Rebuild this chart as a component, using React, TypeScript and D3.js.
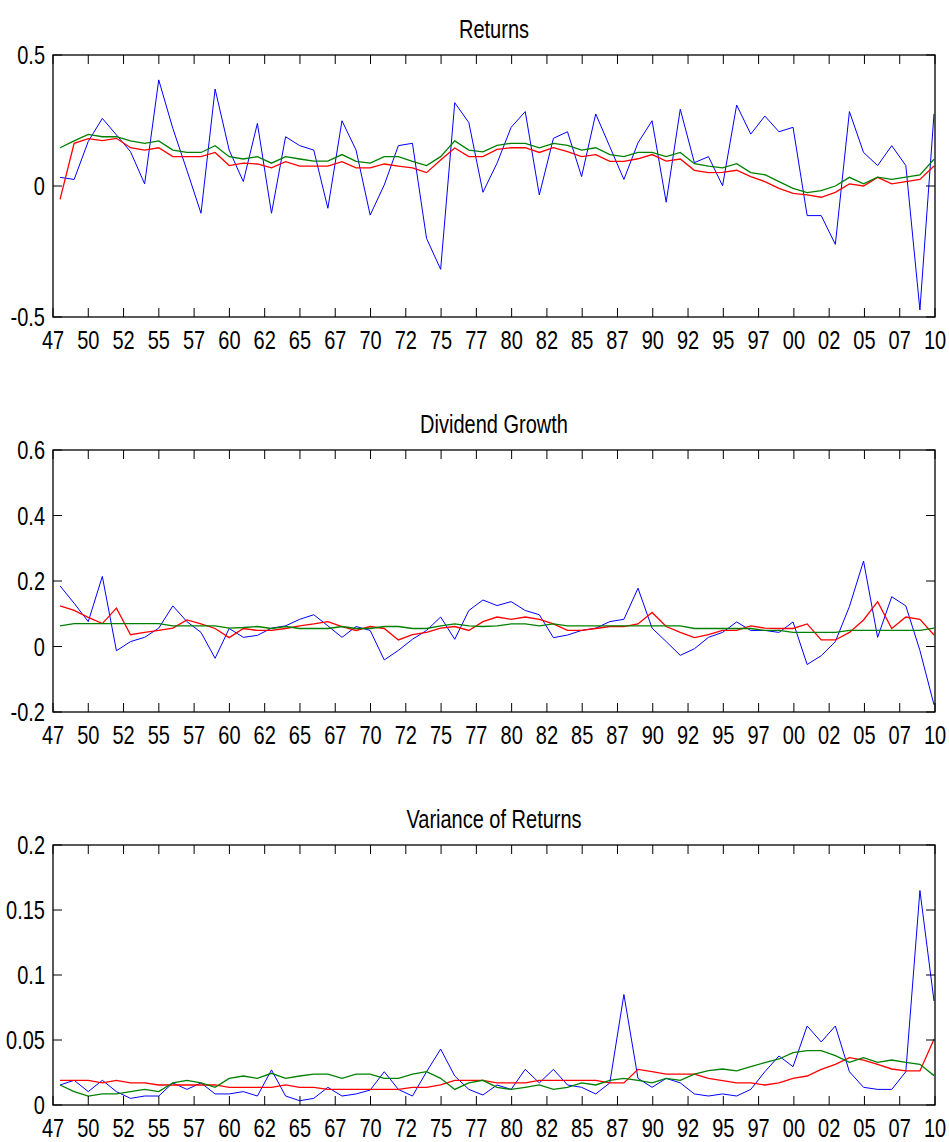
import React from "react";
import * as d3 from "d3";

const years: number[] = d3.range(1948, 2011);
const tickLabels = ["47","50","52","55","57","60","62","65","67","70","72","75","77","80","82","85","87","90","92","95","97","00","02","05","07","10"];

const retBlue = [0.033,0.025,0.17,0.258,0.195,0.131,0.008,0.405,0.22,0.06,-0.104,0.37,0.137,0.017,0.239,-0.104,0.188,0.154,0.137,-0.085,0.249,0.137,-0.111,0.004,0.154,0.163,-0.2,-0.318,0.318,0.242,-0.024,0.087,0.224,0.284,-0.034,0.182,0.207,0.036,0.275,0.15,0.025,0.165,0.249,-0.062,0.293,0.089,0.112,0.001,0.309,0.198,0.267,0.207,0.224,-0.113,-0.113,-0.223,0.284,0.128,0.078,0.154,0.078,-0.473,0.275];
const retRed = [-0.051,0.163,0.181,0.173,0.182,0.146,0.137,0.146,0.112,0.112,0.112,0.128,0.078,0.087,0.084,0.069,0.093,0.076,0.076,0.076,0.093,0.069,0.069,0.084,0.076,0.069,0.051,0.099,0.145,0.112,0.112,0.14,0.146,0.146,0.128,0.146,0.131,0.112,0.12,0.094,0.094,0.104,0.12,0.095,0.103,0.06,0.051,0.052,0.06,0.036,0.017,-0.009,-0.028,-0.034,-0.043,-0.024,0.008,0.0,0.033,0.008,0.017,0.025,0.076];
const retGreen = [0.146,0.172,0.197,0.188,0.188,0.172,0.163,0.172,0.137,0.128,0.128,0.154,0.112,0.103,0.112,0.087,0.112,0.103,0.095,0.095,0.12,0.094,0.087,0.112,0.112,0.094,0.078,0.112,0.172,0.137,0.13,0.155,0.163,0.163,0.146,0.163,0.155,0.137,0.146,0.12,0.112,0.128,0.128,0.112,0.128,0.085,0.076,0.069,0.085,0.051,0.043,0.017,-0.009,-0.025,-0.018,0.0,0.033,0.008,0.034,0.025,0.034,0.042,0.102];

const divBlue = [0.185,0.132,0.076,0.214,-0.013,0.015,0.028,0.056,0.124,0.076,0.043,-0.036,0.055,0.028,0.034,0.056,0.063,0.083,0.097,0.063,0.028,0.061,0.049,-0.041,-0.012,0.022,0.049,0.09,0.022,0.11,0.142,0.125,0.137,0.11,0.097,0.027,0.035,0.049,0.056,0.076,0.083,0.178,0.056,0.015,-0.027,-0.007,0.028,0.043,0.075,0.049,0.049,0.043,0.075,-0.055,-0.028,0.015,0.122,0.261,0.028,0.152,0.124,-0.012,-0.178];
const divRed = [0.124,0.11,0.089,0.07,0.117,0.036,0.043,0.049,0.056,0.081,0.069,0.055,0.027,0.055,0.049,0.049,0.055,0.063,0.069,0.076,0.061,0.049,0.061,0.055,0.02,0.036,0.043,0.056,0.061,0.049,0.076,0.09,0.083,0.09,0.083,0.069,0.049,0.049,0.055,0.061,0.061,0.069,0.104,0.061,0.043,0.027,0.036,0.049,0.049,0.063,0.056,0.055,0.055,0.069,0.02,0.02,0.043,0.081,0.137,0.055,0.09,0.083,0.035];
const divGreen = [0.063,0.07,0.07,0.07,0.07,0.07,0.07,0.07,0.063,0.063,0.063,0.063,0.056,0.058,0.061,0.055,0.061,0.055,0.055,0.055,0.061,0.055,0.055,0.061,0.061,0.055,0.055,0.063,0.069,0.063,0.061,0.063,0.069,0.069,0.063,0.069,0.063,0.063,0.063,0.063,0.063,0.063,0.063,0.063,0.063,0.055,0.055,0.055,0.055,0.055,0.049,0.049,0.043,0.043,0.043,0.043,0.049,0.049,0.049,0.049,0.049,0.049,0.056];

const varBlue = [0.0154,0.019,0.0103,0.019,0.0103,0.0051,0.0069,0.0069,0.017,0.012,0.017,0.0085,0.0085,0.0103,0.0069,0.027,0.0069,0.0033,0.0051,0.0136,0.0069,0.0085,0.0115,0.0256,0.012,0.0069,0.0256,0.043,0.0223,0.012,0.0077,0.0154,0.012,0.0274,0.017,0.0274,0.0154,0.0136,0.0085,0.017,0.085,0.0205,0.0136,0.0205,0.017,0.0085,0.0069,0.0085,0.0069,0.012,0.0256,0.0377,0.0295,0.0608,0.0485,0.0608,0.0256,0.0136,0.012,0.012,0.0256,0.165,0.08];
const varRed = [0.019,0.019,0.019,0.017,0.019,0.017,0.017,0.0154,0.0154,0.0154,0.0154,0.0154,0.0136,0.0136,0.0136,0.0136,0.0154,0.0136,0.0136,0.012,0.012,0.012,0.012,0.012,0.012,0.0136,0.0136,0.0154,0.019,0.019,0.019,0.017,0.017,0.017,0.019,0.019,0.019,0.019,0.019,0.017,0.017,0.0274,0.0256,0.0238,0.0238,0.0238,0.0205,0.0187,0.017,0.017,0.0154,0.017,0.0205,0.0223,0.0274,0.0313,0.0364,0.0346,0.0313,0.0277,0.0262,0.0262,0.0505];
const varGreen = [0.0154,0.0103,0.0069,0.0085,0.0085,0.0103,0.012,0.0103,0.017,0.019,0.017,0.0136,0.0205,0.0223,0.0205,0.0244,0.0205,0.0223,0.0238,0.0238,0.0205,0.0238,0.0238,0.0205,0.0205,0.0238,0.0256,0.0205,0.012,0.017,0.019,0.0136,0.012,0.0136,0.0154,0.012,0.0136,0.017,0.0154,0.019,0.0205,0.019,0.017,0.0205,0.019,0.0238,0.0264,0.0277,0.0262,0.0295,0.0326,0.0354,0.0403,0.0418,0.0418,0.038,0.0328,0.0364,0.0328,0.0346,0.0328,0.0313,0.0226];

const retTicks = [-0.5, 0, 0.5];
const retTickLabels = ["-0.5", "0", "0.5"];
const divTicks = [-0.2, 0, 0.2, 0.4, 0.6];
const divTickLabels = ["-0.2", "0", "0.2", "0.4", "0.6"];
const varTicks = [0, 0.05, 0.1, 0.15, 0.2];
const varTickLabels = ["0", "0.05", "0.1", "0.15", "0.2"];

const FONT = "'Liberation Sans', Arial, Helvetica, sans-serif";
const FS = 25;
const SX = 0.8;
const LEFT = 53;
const RIGHT = 935;
const TICK = 9;

type LabelProps = { x: number; y: number; anchor: "start" | "middle" | "end"; dy?: string; children: React.ReactNode };
function Label({ x, y, anchor, dy, children }: LabelProps) {
  return (
    <text
      transform={`translate(${x},${y}) scale(${SX},1)`}
      dy={dy}
      textAnchor={anchor}
      fontFamily={FONT}
      fontSize={FS}
      fill="#000"
    >
      {children}
    </text>
  );
}

type PanelProps = {
  title: string;
  top: number;
  bottom: number;
  yDomain: [number, number];
  yTicks: number[];
  yTickLabels: string[];
  series: { values: number[]; color: string; width: number }[];
};

function Panel({ title, top, bottom, yDomain, yTicks, yTickLabels, series }: PanelProps) {
  const x = d3.scaleLinear().domain([1947.5, 2010.07]).range([LEFT, RIGHT]);
  const y = d3.scaleLinear().domain(yDomain).range([bottom, top]);
  const [d0, d1] = x.domain();
  const xTickVals = tickLabels.map((_, i) => d0 + (i * (d1 - d0)) / (tickLabels.length - 1));
  const line = d3
    .line<number>()
    .x((_, i) => x(years[i]))
    .y((d) => y(d));
  return (
    <g>
      <Label x={(LEFT + RIGHT) / 2} y={top - 17} anchor="middle">
        {title}
      </Label>
      {series.map((s, k) => (
        <path key={k} d={line(s.values) || ""} fill="none" stroke={s.color} strokeWidth={s.width} strokeLinejoin="miter" />
      ))}
      <rect x={LEFT} y={top} width={RIGHT - LEFT} height={bottom - top} fill="none" stroke="#000" strokeWidth={1.3} />
      {xTickVals.map((v, i) => (
        <g key={"xt" + i}>
          <line x1={x(v)} x2={x(v)} y1={bottom} y2={bottom - TICK} stroke="#000" strokeWidth={1} />
          <line x1={x(v)} x2={x(v)} y1={top} y2={top + TICK} stroke="#000" strokeWidth={1} />
          <Label x={x(v)} y={bottom + 32} anchor="middle">
            {tickLabels[i]}
          </Label>
        </g>
      ))}
      {yTicks.map((v, i) => (
        <g key={"yt" + i}>
          <line x1={LEFT} x2={LEFT + TICK} y1={y(v)} y2={y(v)} stroke="#000" strokeWidth={1} />
          <line x1={RIGHT} x2={RIGHT - TICK} y1={y(v)} y2={y(v)} stroke="#000" strokeWidth={1} />
          <Label x={LEFT - 8} y={y(v)} anchor="end" dy="0.36em">
            {yTickLabels[i]}
          </Label>
        </g>
      ))}
    </g>
  );
}

export default function App() {
  return (
    <svg width={949} height={1142} style={{ position: "absolute", left: 0, top: 0, background: "#fff" }}>
      <rect x={0} y={0} width={949} height={1142} fill="#fff" />
      <Panel
        title="Returns"
        top={55}
        bottom={317}
        yDomain={[-0.5, 0.5]}
        yTicks={retTicks}
        yTickLabels={retTickLabels}
        series={[
          { values: retBlue, color: "#0000ff", width: 1 },
          { values: retRed, color: "#ff0000", width: 1.3 },
          { values: retGreen, color: "#008000", width: 1.3 },
        ]}
      />
      <Panel
        title="Dividend Growth"
        top={450}
        bottom={712}
        yDomain={[-0.2, 0.6]}
        yTicks={divTicks}
        yTickLabels={divTickLabels}
        series={[
          { values: divBlue, color: "#0000ff", width: 1 },
          { values: divRed, color: "#ff0000", width: 1.3 },
          { values: divGreen, color: "#008000", width: 1.3 },
        ]}
      />
      <Panel
        title="Variance of Returns"
        top={845}
        bottom={1105}
        yDomain={[0, 0.2]}
        yTicks={varTicks}
        yTickLabels={varTickLabels}
        series={[
          { values: varBlue, color: "#0000ff", width: 1 },
          { values: varRed, color: "#ff0000", width: 1.3 },
          { values: varGreen, color: "#008000", width: 1.3 },
        ]}
      />
    </svg>
  );
}
